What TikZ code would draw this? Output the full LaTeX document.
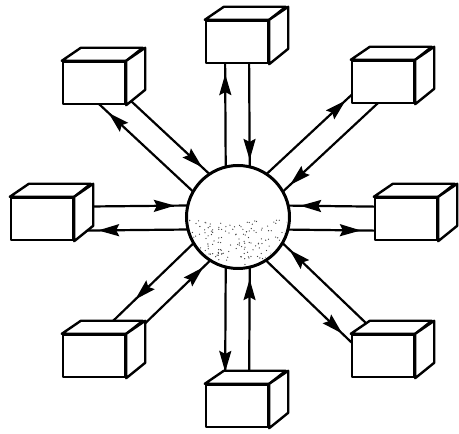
\documentclass[tikz,border=0pt]{standalone}
\usetikzlibrary{calc}
\usetikzlibrary{arrows.meta}
\usetikzlibrary{decorations.markings}
\usetikzlibrary{backgrounds}
\tikzset{
  % front face of a crate
  crateface/.style={draw=black, fill=white, line width=2.4pt, line join=round,
    minimum width=62pt, minimum height=42pt, inner sep=0pt},
  % top and side of a crate
  cratepart/.style={draw=black, fill=white, line width=2.4pt, line join=round},
  % the central hub
  hubdisc/.style={circle, draw=black, fill=white, line width=3pt,
    minimum size=103pt, inner sep=0pt},
  % a pipe between hub and crate
  pipe/.style={draw=black, line width=2.2pt},
  tipat/.style={postaction={decorate}, decoration={markings,
    mark=at position -#1 with {\arrow{Stealth[length=21pt, width=12pt, inset=3pt]}}}},
}
\newcommand{\crate}[3]{%
  \node[crateface] (#1) at (#2,#3) {};
  \draw[cratepart] (#1.north west) -- ++(19,13) -- ++(62,0) -- (#1.north east) -- cycle;
  \draw[cratepart] (#1.north east) -- ++(19,13) -- ++(0,-42) -- (#1.south east) -- cycle;}
\newcommand{\duplex}[4]{%
  \coordinate (#1out) at ($(hub.center)!12pt!#2:(#1.center)$);
  \coordinate (#1in) at ($(hub.center)!12pt!-#2:(#1.center)$);
  \draw[pipe, tipat=#3] (#1out) -- ($(#1out)+(#1.center)-(hub.center)$);
  \draw[pipe, tipat=#4] ($(#1in)+(#1.center)-(hub.center)$) -- (#1in);}

\begin{document}
\begin{tikzpicture}[x=1pt, y=1pt]

  \useasboundingbox (0,0) rectangle (459,434);

  \node[hubdisc] (hub) at (238,217) {};

  % stipple on the lower half of the hub
  \begin{scope}
    \clip (hub.center) circle (49pt);
    \pgfmathsetseed{11}
    \foreach \k in {1,...,170} {
      \pgfmathsetmacro{\dx}{rnd*100-50}
      \pgfmathsetmacro{\dy}{-3-48*rnd}
      \fill[black!75] ($(hub.center)+(\dx,\dy)$) circle (0.65pt);
    }
  \end{scope}

  \crate{boxN}{237}{392}
  \crate{boxNW}{94}{351}
  \crate{boxW}{42}{215}
  \crate{boxSW}{94}{78}
  \crate{boxS}{237}{28}
  \crate{boxSE}{383}{78}
  \crate{boxE}{406}{215}
  \crate{boxNE}{383}{352}

  \begin{scope}[on background layer]
    \duplex{boxN}{90}{32pt}{57pt}
    \duplex{boxNW}{90}{31pt}{60pt}
    \duplex{boxW}{90}{56pt}{63pt}
    \duplex{boxSW}{270}{69pt}{60pt}
    \duplex{boxS}{270}{34pt}{62pt}
    \duplex{boxSE}{270}{45pt}{60pt}
    \duplex{boxE}{270}{45pt}{62pt}
    \duplex{boxNE}{90}{40pt}{60pt}
  \end{scope}

\end{tikzpicture}
\end{document}
